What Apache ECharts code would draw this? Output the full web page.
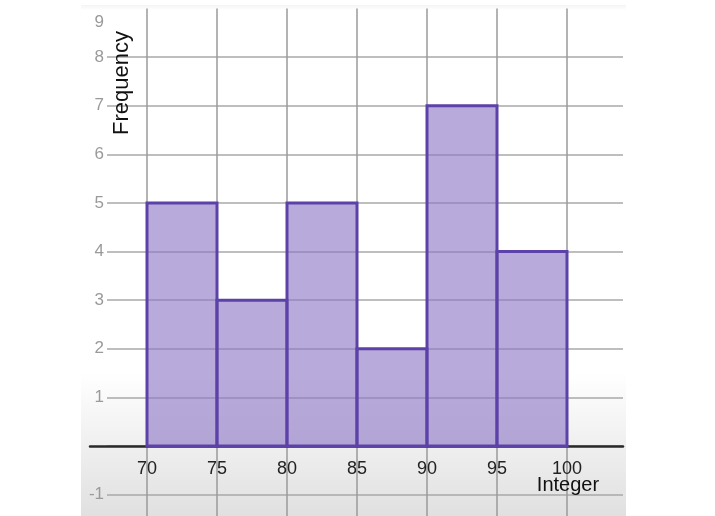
<!DOCTYPE html>
<html>
<head>
<meta charset="utf-8">
<script src="https://cdn.jsdelivr.net/npm/echarts@6/dist/echarts.min.js"></script>
<style>
html,body{margin:0;padding:0;background:#fff;}
#c{width:715px;height:516px;}
</style>
</head>
<body>
<div id="c"></div>
<script>
// Data
var binEdges = [70, 75, 80, 85, 90, 95, 100];
var counts = [5, 3, 5, 2, 7, 4];
var xTicks = [70, 75, 80, 85, 90, 95, 100];
var yTicks = [-1, 1, 2, 3, 4, 5, 6, 7, 8, 9];
var xName = 'Integer';
var yName = 'Frequency';

var histData = counts.map(function (c, i) { return [binEdges[i], binEdges[i + 1], c]; });

var FONT = '"Liberation Sans", Arial, sans-serif';
var chart = echarts.init(document.getElementById('c'), null, { renderer: 'canvas' });

var option = {
  backgroundColor: '#ffffff',
  animation: false,
  grid: [
    { // panel background
      left: 81, right: 89, top: 5, bottom: 0, show: true, borderWidth: 0, z: -10,
      outerBoundsMode: 'none', containLabel: false,
      backgroundColor: {
        type: 'linear', x: 0, y: 0, x2: 0, y2: 1,
        colorStops: [
          { offset: 0, color: '#f4f4f4' },
          { offset: 0.01, color: '#ffffff' },
          { offset: 0.72, color: '#ffffff' },
          { offset: 1, color: '#e0e0e0' }
        ]
      }
    },
    { left: 107, width: 516, top: 8.6, height: 534.6, outerBoundsMode: 'none', containLabel: false },   // horizontal grid + y labels
    { left: 77, width: 560, top: 8.6, height: 534.6, outerBoundsMode: 'none', containLabel: false },    // bars + vertical grid + x labels
    { left: 90, width: 533, top: 446, height: 0, outerBoundsMode: 'none', containLabel: false }         // x axis line
  ],
  xAxis: [
    { gridIndex: 0, type: 'value', show: false, min: 0, max: 1 },
    { gridIndex: 1, type: 'value', show: false, min: 0, max: 1 },
    {
      gridIndex: 2, type: 'value', min: 65, max: 105, interval: 5,
      position: 'bottom', offset: -97.2,
      axisLine: { show: false, onZero: false },
      axisTick: { show: false },
      axisLabel: {
        showMinLabel: false, showMaxLabel: false, margin: 14,
        color: '#222', fontSize: 18, fontFamily: FONT,
        formatter: function (v) { return xTicks.indexOf(v) >= 0 ? String(v) : ''; }
      },
      splitLine: { show: true, showMinLine: false, showMaxLine: false, lineStyle: { color: '#9a9a9a', width: 1.5 } }
    },
    {
      gridIndex: 3, type: 'value', min: 0, max: 1, position: 'bottom',
      axisLine: { show: true, onZero: false, lineStyle: { color: '#2a2a2a', width: 2.5 } },
      axisTick: { show: false }, axisLabel: { show: false }, splitLine: { show: false }
    }
  ],
  yAxis: [
    { gridIndex: 0, type: 'value', show: false, min: 0, max: 1 },
    {
      gridIndex: 1, type: 'value', min: -2, max: 9, interval: 1,
      axisLine: { show: false }, axisTick: { show: false },
      axisLabel: {
        margin: 3, color: '#9a9a9a', fontSize: 17, fontFamily: FONT,
        formatter: function (v) {
          if (yTicks.indexOf(v) < 0) return '';
          if (v === 9) return '{top|' + v + '}';
          return String(v);
        },
        rich: { top: { color: '#9a9a9a', fontSize: 17, fontFamily: FONT, padding: [28, 0, 0, 0] } }
      },
      splitLine: { show: true, showMinLine: false, showMaxLine: false, lineStyle: { color: '#a8a8a8', width: 1.5 } }
    },
    {
      gridIndex: 2, type: 'value', min: -2, max: 9, interval: 1,
      axisLine: { show: false }, axisTick: { show: false }, axisLabel: { show: false }, splitLine: { show: false }
    },
    { gridIndex: 3, type: 'value', show: false, min: 0, max: 1 }
  ],
  graphic: [
    {
      type: 'text', x: 122, y: 83, rotation: Math.PI / 2, z: 100,
      style: { text: yName, font: '22px ' + FONT, fill: '#111', align: 'center', verticalAlign: 'middle' }
    },
    {
      type: 'text', x: 568, y: 485, z: 100,
      style: { text: xName, font: '20px ' + FONT, fill: '#111', align: 'center', verticalAlign: 'middle' }
    }
  ],
  series: [{
    type: 'custom',
    xAxisIndex: 2, yAxisIndex: 2,
    encode: { x: [0, 1], y: 2 },
    data: histData,
    renderItem: function (params, api) {
      var p0 = api.coord([api.value(0), 0]);
      var p1 = api.coord([api.value(1), api.value(2)]);
      return {
        type: 'rect',
        shape: { x: p0[0], y: p1[1], width: p1[0] - p0[0], height: p0[1] - p1[1] },
        style: { fill: 'rgba(140,118,196,0.62)', stroke: '#5c42a8', lineWidth: 3 }
      };
    }
  }]
};
chart.setOption(option);
</script>
</body>
</html>
